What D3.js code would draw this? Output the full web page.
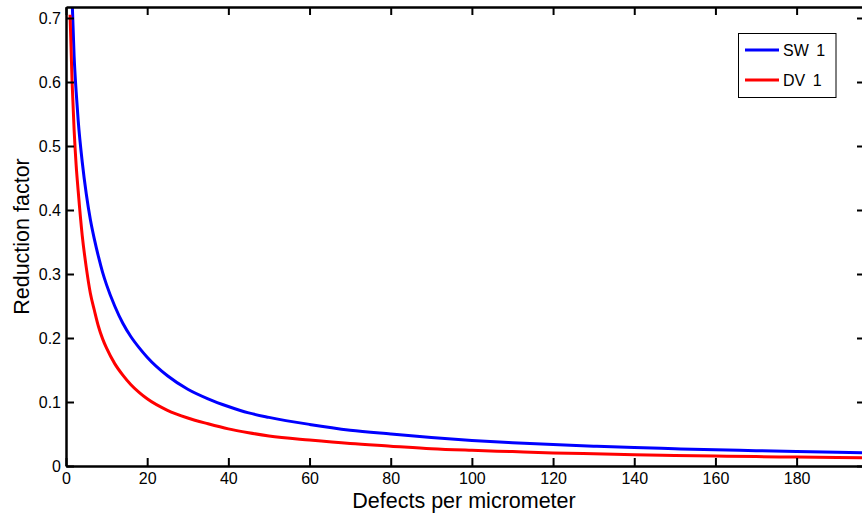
<!DOCTYPE html>
<html>
<head>
<meta charset="utf-8">
<script src="https://cdn.jsdelivr.net/npm/d3@7"></script>
<style>
  html, body { margin: 0; padding: 0; background: #fff; }
  svg { display: block; font-family: "Liberation Sans", Arial, Helvetica, sans-serif; }
</style>
</head>
<body>
<svg id="chart" width="862" height="519"></svg>
<script>
// ---- data ----
const defects = [1, 1.5, 2, 2.5, 3, 4, 5, 6, 7, 8, 9, 10, 12, 14, 16, 18, 20, 25, 30, 35, 40, 45, 50, 60, 70, 80, 90, 100, 110, 120, 130, 140, 150, 160, 170, 180, 190, 197];
const sw1 = [0.80, 0.73, 0.64, 0.585, 0.54, 0.475, 0.425, 0.385, 0.354, 0.327, 0.303, 0.283, 0.250, 0.223, 0.202, 0.185, 0.170, 0.141, 0.120, 0.105, 0.093, 0.083, 0.076, 0.065, 0.056, 0.050, 0.0445, 0.040, 0.0365, 0.0335, 0.031, 0.0288, 0.027, 0.0253, 0.024, 0.0226, 0.0214, 0.0207];
const dv1 = [0.705, 0.60, 0.525, 0.47, 0.43, 0.36, 0.31, 0.27, 0.243, 0.218, 0.199, 0.184, 0.160, 0.142, 0.127, 0.115, 0.105, 0.087, 0.075, 0.066, 0.058, 0.052, 0.047, 0.0405, 0.035, 0.031, 0.027, 0.0245, 0.0225, 0.0205, 0.019, 0.0176, 0.0165, 0.0156, 0.0147, 0.0139, 0.0132, 0.0127];
const seriesNames = ["SW 1", "DV 1"];
const seriesColors = ["#0000ff", "#ff0000"];
const xTicks = [0, 20, 40, 60, 80, 100, 120, 140, 160, 180];
const yTicks = [0, 0.1, 0.2, 0.3, 0.4, 0.5, 0.6, 0.7];
const xLabel = "Defects per micrometer";
const yLabel = "Reduction factor";

// ---- layout ----
const svg = d3.select("#chart");
const mLeft = 66, mRight = 865, mTop = 7, mBottom = 466;
const x = d3.scaleLinear().domain([0, 196.85]).range([mLeft, mRight]);
const y = d3.scaleLinear().domain([0, 0.7172]).range([mBottom, mTop]);

svg.append("defs").append("clipPath").attr("id", "plotclip")
  .append("rect").attr("x", mLeft).attr("y", mTop).attr("width", mRight - mLeft).attr("height", mBottom - mTop);

// series lines
const series = [sw1, dv1];
const line = d3.line().x((d, i) => x(defects[i])).y(d => y(d)).curve(d3.curveMonotoneX);
const plot = svg.append("g").attr("clip-path", "url(#plotclip)");
series.forEach((vals, k) => {
  plot.append("path").datum(vals)
    .attr("d", line)
    .attr("fill", "none")
    .attr("stroke", seriesColors[k])
    .attr("stroke-width", 3)
    .attr("stroke-linejoin", "round");
});

// axes (MATLAB-style: ticks inward, mirrored box)
const tickLen = 8;
const fontTick = 16;
const xAxisB = d3.axisBottom(x).tickValues(xTicks).tickSizeInner(-tickLen).tickSizeOuter(0).tickPadding(7).tickFormat(d3.format("d"));
const xAxisT = d3.axisTop(x).tickValues(xTicks).tickSizeInner(-tickLen).tickSizeOuter(0).tickFormat("");
const yAxisL = d3.axisLeft(y).tickValues(yTicks).tickSizeInner(-tickLen).tickSizeOuter(0).tickPadding(5).tickFormat(d => d === 0 ? "0" : d3.format(".1f")(d));
const yAxisR = d3.axisRight(y).tickValues(yTicks).tickSizeInner(-tickLen).tickSizeOuter(0).tickFormat("");

function styleAxis(g) {
  g.selectAll(".domain").attr("stroke", "#000").attr("stroke-width", 2.5);
  g.selectAll(".tick line").attr("stroke", "#000").attr("stroke-width", 2);
  g.selectAll(".tick text").attr("fill", "#000").attr("font-size", fontTick).attr("font-family", "Liberation Sans, Arial, sans-serif");
}
svg.append("g").attr("transform", `translate(0,${mBottom})`).call(xAxisB).call(styleAxis);
svg.append("g").attr("transform", `translate(0,${mTop})`).call(xAxisT).call(styleAxis);
svg.append("g").attr("transform", `translate(${mLeft},0)`).call(yAxisL).call(styleAxis);
svg.append("g").attr("transform", `translate(${mRight},0)`).call(yAxisR).call(styleAxis);

// axis labels
svg.append("text").attr("x", (mLeft + 862) / 2).attr("y", 508)
  .attr("text-anchor", "middle").attr("font-size", 21.5).attr("fill", "#000").text(xLabel);
svg.append("text").attr("transform", `translate(28.5,${(mTop + mBottom) / 2}) rotate(-90)`)
  .attr("text-anchor", "middle").attr("font-size", 21.5).attr("fill", "#000").text(yLabel);

// legend
const lg = svg.append("g");
lg.append("rect").attr("x", 738.5).attr("y", 33.5).attr("width", 97.5).attr("height", 64)
  .attr("fill", "#fff").attr("stroke", "#000").attr("stroke-width", 1);
seriesNames.forEach((name, k) => {
  const ly = 50 + k * 30;
  lg.append("line").attr("x1", 745).attr("x2", 779).attr("y1", ly).attr("y2", ly)
    .attr("stroke", seriesColors[k]).attr("stroke-width", 3);
  lg.append("text").attr("x", 783).attr("y", ly).attr("dy", "0.35em")
    .attr("font-size", 16).attr("word-spacing", 3).attr("fill", "#000").text(name);
});
</script>
</body>
</html>
